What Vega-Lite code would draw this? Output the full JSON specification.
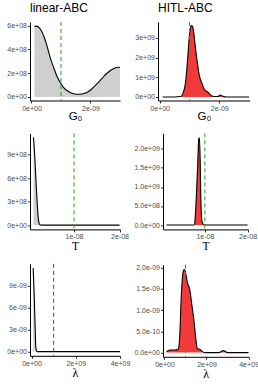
{
  "$schema": "https://vega.github.io/schema/vega-lite/v6.json",
  "padding": {"left": 0, "top": 2, "right": 0, "bottom": 0},
  "background": "white",
  "columns": 2,
  "align": "none",
  "bounds": "full",
  "spacing": {"row": 10.4, "column": -2},
  "config": {
    "view": {"stroke": null},
    "font": "Liberation Sans",
    "title": {"fontSize": 12, "fontWeight": "normal", "anchor": "start", "frame": "group", "baseline": "alphabetic", "offset": 6.5, "color": "black", "font": "Liberation Sans"},
    "axis": {"grid": false, "domainColor": "black", "domainWidth": 1, "tickColor": "#333333", "tickWidth": 1, "tickSize": 2.5, "labelFont": "Liberation Sans", "labelFontSize": 7, "labelColor": "#4d4d4d", "labelPadding": 1, "labelOverlap": false, "labelFlush": false, "titleFont": "Liberation Sans", "titleFontWeight": "normal", "titleColor": "black", "titleFontSize": 11.5}
  },
  "datasets": {
    "p1": [
      {"x": 1.0e-10, "y": 5.95e8}, {"x": 2.0e-10, "y": 5.93e8}, {"x": 3.1e-10, "y": 5.67e8}, {"x": 4.2e-10, "y": 5.10e8},
      {"x": 5.3e-10, "y": 4.25e8}, {"x": 6.4e-10, "y": 3.26e8}, {"x": 7.6e-10, "y": 2.41e8}, {"x": 8.7e-10, "y": 1.70e8},
      {"x": 9.8e-10, "y": 1.19e8}, {"x": 1.09e-9, "y": 7.9e7}, {"x": 1.20e-9, "y": 5.4e7}, {"x": 1.37e-9, "y": 3.1e7},
      {"x": 1.53e-9, "y": 2.3e7}, {"x": 1.70e-9, "y": 2.5e7}, {"x": 1.87e-9, "y": 3.7e7}, {"x": 2.03e-9, "y": 6.5e7},
      {"x": 2.20e-9, "y": 1.05e8}, {"x": 2.37e-9, "y": 1.50e8}, {"x": 2.53e-9, "y": 1.93e8}, {"x": 2.70e-9, "y": 2.27e8},
      {"x": 2.81e-9, "y": 2.41e8}, {"x": 2.94e-9, "y": 2.49e8}, {"x": 3.00e-9, "y": 2.48e8}
    ],
    "p2": [
      {"x": 1e-10, "y": 0}, {"x": 5e-10, "y": 0}, {"x": 7e-10, "y": 2e7}, {"x": 7.8e-10, "y": 1.7e8},
      {"x": 8.7e-10, "y": 7.6e8}, {"x": 9.4e-10, "y": 1.95e9}, {"x": 1.0e-9, "y": 3.14e9}, {"x": 1.04e-9, "y": 3.56e9},
      {"x": 1.07e-9, "y": 3.62e9}, {"x": 1.10e-9, "y": 3.58e9}, {"x": 1.14e-9, "y": 3.30e9}, {"x": 1.19e-9, "y": 2.63e9},
      {"x": 1.26e-9, "y": 1.78e9}, {"x": 1.33e-9, "y": 1.10e9}, {"x": 1.42e-9, "y": 6.8e8}, {"x": 1.50e-9, "y": 3.9e8},
      {"x": 1.61e-9, "y": 2.5e8}, {"x": 1.72e-9, "y": 8e7}, {"x": 1.83e-9, "y": 2e7}, {"x": 1.95e-9, "y": 2e7},
      {"x": 2.04e-9, "y": 1.0e8}, {"x": 2.12e-9, "y": 3e7}, {"x": 2.25e-9, "y": 0}, {"x": 3.0e-9, "y": 0}
    ],
    "p3": [
      {"x": 1.1e-9, "y": 1.12e9}, {"x": 1.4e-9, "y": 8.5e8}, {"x": 1.7e-9, "y": 5.0e8}, {"x": 2.0e-9, "y": 2.0e8},
      {"x": 2.25e-9, "y": 4e7}, {"x": 2.5e-9, "y": 5e6}, {"x": 2.8e-9, "y": 0}, {"x": 2.0e-8, "y": 0}
    ],
    "p4": [
      {"x": 1e-9, "y": 0}, {"x": 7.5e-9, "y": 0}, {"x": 7.7e-9, "y": 1.3e8}, {"x": 8.0e-9, "y": 7.4e8},
      {"x": 8.33e-9, "y": 1.61e9}, {"x": 8.57e-9, "y": 2.26e9}, {"x": 8.73e-9, "y": 2.29e9}, {"x": 8.89e-9, "y": 1.78e9},
      {"x": 9.05e-9, "y": 7.4e8}, {"x": 9.29e-9, "y": 1.3e8}, {"x": 9.52e-9, "y": 4e7}, {"x": 9.84e-9, "y": 0},
      {"x": 2.0e-8, "y": 0}
    ],
    "p5": [
      {"x": 7.5e7, "y": 1.14e-8}, {"x": 1.2e8, "y": 7.8e-9}, {"x": 1.66e8, "y": 3.26e-9}, {"x": 1.96e8, "y": 5.4e-10},
      {"x": 2.56e8, "y": 0}, {"x": 4.0e9, "y": 0}
    ],
    "p6": [
      {"x": 1.0e8, "y": 2e-11}, {"x": 2.5e8, "y": 6e-11}, {"x": 5.0e8, "y": 6e-11}, {"x": 6.5e8, "y": 8e-11},
      {"x": 7.2e8, "y": 3.3e-10}, {"x": 8.0e8, "y": 1.34e-9}, {"x": 8.8e8, "y": 1.88e-9}, {"x": 9.3e8, "y": 1.96e-9},
      {"x": 9.9e8, "y": 1.92e-9}, {"x": 1.09e9, "y": 1.65e-9}, {"x": 1.2e9, "y": 1.49e-9}, {"x": 1.31e9, "y": 1.10e-9},
      {"x": 1.41e9, "y": 7.2e-10}, {"x": 1.49e9, "y": 3.3e-10}, {"x": 1.57e9, "y": 9e-11}, {"x": 1.68e9, "y": 8e-11},
      {"x": 1.79e9, "y": 3e-11}, {"x": 1.92e9, "y": 0}, {"x": 2.6e9, "y": 0}, {"x": 2.8e9, "y": 5e-11},
      {"x": 3.0e9, "y": 0}, {"x": 4.0e9, "y": 0}
    ]
  },
  "concat": [
    {
      "width": 90, "height": 78.5, "title": "linear-ABC",
      "layer": [
        {"data": {"name": "p1"}, "mark": {"type": "area", "color": "#cfcfcf", "interpolate": "monotone"},
         "encoding": {
           "x": {"field": "x", "type": "quantitative", "scale": {"domain": [-5e-11, 3e-9], "nice": false, "zero": false},
                 "axis": {"title": "G₀", "values": [0, 2e-9], "labelExpr": "replace(format(datum.value, '.0e'), regexp('e([+-])([0-9])$'), 'e$010$02')", "minExtent": 11, "maxExtent": 11, "titlePadding": 7.9, "titleBaseline": "alphabetic"}},
           "y": {"field": "y", "type": "quantitative", "scale": {"domain": [-3e7, 6.3e8], "nice": false, "zero": false},
                 "axis": {"title": null, "values": [0, 2e8, 4e8, 6e8], "labelExpr": "replace(format(datum.value, '.0e'), regexp('e([+-])([0-9])$'), 'e$010$02')", "minExtent": 30, "maxExtent": 30}}
         }},
        {"data": {"name": "p1"}, "mark": {"type": "line", "color": "black", "strokeWidth": 1.1, "interpolate": "monotone"},
         "encoding": {
           "x": {"field": "x", "type": "quantitative", "scale": {"domain": [-5e-11, 3e-9], "nice": false, "zero": false},
                 "axis": {"title": "G₀", "values": [0, 2e-9], "labelExpr": "replace(format(datum.value, '.0e'), regexp('e([+-])([0-9])$'), 'e$010$02')", "minExtent": 11, "maxExtent": 11, "titlePadding": 7.9, "titleBaseline": "alphabetic"}},
           "y": {"field": "y", "type": "quantitative", "scale": {"domain": [-3e7, 6.3e8], "nice": false, "zero": false},
                 "axis": {"title": null, "values": [0, 2e8, 4e8, 6e8], "labelExpr": "replace(format(datum.value, '.0e'), regexp('e([+-])([0-9])$'), 'e$010$02')", "minExtent": 30, "maxExtent": 30}}
         }},
        {"data": {"values": [{"x": 1e-9}]}, "mark": {"type": "rule", "color": "#22a022", "strokeDash": [4, 3], "strokeWidth": 1},
         "encoding": {
           "x": {"field": "x", "type": "quantitative", "scale": {"domain": [-5e-11, 3e-9], "nice": false, "zero": false},
                 "axis": {"title": "G₀", "values": [0, 2e-9], "labelExpr": "replace(format(datum.value, '.0e'), regexp('e([+-])([0-9])$'), 'e$010$02')", "minExtent": 11, "maxExtent": 11, "titlePadding": 7.9, "titleBaseline": "alphabetic"}}
         }}
      ]
    },
    {
      "width": 91.7, "height": 78.5, "title": "HITL-ABC",
      "layer": [
        {"data": {"name": "p2"}, "mark": {"type": "area", "color": "#f33a3a", "interpolate": "monotone"},
         "encoding": {
           "x": {"field": "x", "type": "quantitative", "scale": {"domain": [-5.5e-11, 3.02e-9], "nice": false, "zero": false},
                 "axis": {"title": "G₀", "values": [0, 2e-9], "labelExpr": "replace(format(datum.value, '.0e'), regexp('e([+-])([0-9])$'), 'e$010$02')", "minExtent": 11, "maxExtent": 11, "titlePadding": 7.9, "titleBaseline": "alphabetic"}},
           "y": {"field": "y", "type": "quantitative", "scale": {"domain": [-1.8e8, 3.8e9], "nice": false, "zero": false},
                 "axis": {"title": null, "values": [0, 1e9, 2e9, 3e9], "labelExpr": "replace(format(datum.value, '.0e'), regexp('e([+-])([0-9])$'), 'e$010$02')", "minExtent": 29.3, "maxExtent": 29.3}}
         }},
        {"data": {"name": "p2"}, "mark": {"type": "line", "color": "black", "strokeWidth": 1.1, "interpolate": "monotone"},
         "encoding": {
           "x": {"field": "x", "type": "quantitative", "scale": {"domain": [-5.5e-11, 3.02e-9], "nice": false, "zero": false},
                 "axis": {"title": "G₀", "values": [0, 2e-9], "labelExpr": "replace(format(datum.value, '.0e'), regexp('e([+-])([0-9])$'), 'e$010$02')", "minExtent": 11, "maxExtent": 11, "titlePadding": 7.9, "titleBaseline": "alphabetic"}},
           "y": {"field": "y", "type": "quantitative", "scale": {"domain": [-1.8e8, 3.8e9], "nice": false, "zero": false},
                 "axis": {"title": null, "values": [0, 1e9, 2e9, 3e9], "labelExpr": "replace(format(datum.value, '.0e'), regexp('e([+-])([0-9])$'), 'e$010$02')", "minExtent": 29.3, "maxExtent": 29.3}}
         }},
        {"data": {"values": [{"x": 1e-9}]}, "mark": {"type": "rule", "color": "#22a022", "strokeDash": [4, 3], "strokeWidth": 1},
         "encoding": {
           "x": {"field": "x", "type": "quantitative", "scale": {"domain": [-5.5e-11, 3.02e-9], "nice": false, "zero": false},
                 "axis": {"title": "G₀", "values": [0, 2e-9], "labelExpr": "replace(format(datum.value, '.0e'), regexp('e([+-])([0-9])$'), 'e$010$02')", "minExtent": 11, "maxExtent": 11, "titlePadding": 7.9, "titleBaseline": "alphabetic"}}
         }}
      ]
    },
    {
      "width": 90, "height": 96,
      "layer": [
        {"data": {"name": "p3"}, "mark": {"type": "area", "color": "#cfcfcf", "interpolate": "monotone"},
         "encoding": {
           "x": {"field": "x", "type": "quantitative", "scale": {"domain": [3.3e-10, 2.01e-8], "nice": false, "zero": false},
                 "axis": {"title": "T", "titleFont": "Liberation Serif", "titleFontSize": 11.5, "values": [1e-8, 2e-8], "labelExpr": "replace(format(datum.value, '.0e'), regexp('e([+-])([0-9])$'), 'e$010$02')", "minExtent": 11, "maxExtent": 11, "titlePadding": 9, "titleBaseline": "alphabetic"}},
           "y": {"field": "y", "type": "quantitative", "scale": {"domain": [-5.5e7, 1.17e9], "nice": false, "zero": false},
                 "axis": {"title": null, "values": [0, 3e8, 6e8, 9e8], "labelExpr": "replace(format(datum.value, '.0e'), regexp('e([+-])([0-9])$'), 'e$010$02')", "minExtent": 30, "maxExtent": 30}}
         }},
        {"data": {"name": "p3"}, "mark": {"type": "line", "color": "black", "strokeWidth": 1.1, "interpolate": "monotone"},
         "encoding": {
           "x": {"field": "x", "type": "quantitative", "scale": {"domain": [3.3e-10, 2.01e-8], "nice": false, "zero": false},
                 "axis": {"title": "T", "titleFont": "Liberation Serif", "titleFontSize": 11.5, "values": [1e-8, 2e-8], "labelExpr": "replace(format(datum.value, '.0e'), regexp('e([+-])([0-9])$'), 'e$010$02')", "minExtent": 11, "maxExtent": 11, "titlePadding": 9, "titleBaseline": "alphabetic"}},
           "y": {"field": "y", "type": "quantitative", "scale": {"domain": [-5.5e7, 1.17e9], "nice": false, "zero": false},
                 "axis": {"title": null, "values": [0, 3e8, 6e8, 9e8], "labelExpr": "replace(format(datum.value, '.0e'), regexp('e([+-])([0-9])$'), 'e$010$02')", "minExtent": 30, "maxExtent": 30}}
         }},
        {"data": {"values": [{"x": 1e-8}]}, "mark": {"type": "rule", "color": "#22a022", "strokeDash": [4, 3], "strokeWidth": 1},
         "encoding": {
           "x": {"field": "x", "type": "quantitative", "scale": {"domain": [3.3e-10, 2.01e-8], "nice": false, "zero": false},
                 "axis": {"title": "T", "titleFont": "Liberation Serif", "titleFontSize": 11.5, "values": [1e-8, 2e-8], "labelExpr": "replace(format(datum.value, '.0e'), regexp('e([+-])([0-9])$'), 'e$010$02')", "minExtent": 11, "maxExtent": 11, "titlePadding": 9, "titleBaseline": "alphabetic"}}
         }}
      ]
    },
    {
      "width": 85, "height": 96,
      "layer": [
        {"data": {"name": "p4"}, "mark": {"type": "area", "color": "#f33a3a", "interpolate": "monotone"},
         "encoding": {
           "x": {"field": "x", "type": "quantitative", "scale": {"domain": [2e-10, 2.01e-8], "nice": false, "zero": false},
                 "axis": {"title": "T", "titleFont": "Liberation Serif", "titleFontSize": 11.5, "values": [1e-8, 2e-8], "labelExpr": "replace(format(datum.value, '.0e'), regexp('e([+-])([0-9])$'), 'e$010$02')", "minExtent": 11, "maxExtent": 11, "titlePadding": 9, "titleBaseline": "alphabetic"}},
           "y": {"field": "y", "type": "quantitative", "scale": {"domain": [-1.15e8, 2.405e9], "nice": false, "zero": false},
                 "axis": {"title": null, "values": [0, 5e8, 1e9, 1.5e9, 2e9], "labelExpr": "replace(format(datum.value, '.1e'), regexp('e([+-])([0-9])$'), 'e$010$02')", "minExtent": 34.5, "maxExtent": 34.5}}
         }},
        {"data": {"name": "p4"}, "mark": {"type": "line", "color": "black", "strokeWidth": 1.1, "interpolate": "monotone"},
         "encoding": {
           "x": {"field": "x", "type": "quantitative", "scale": {"domain": [2e-10, 2.01e-8], "nice": false, "zero": false},
                 "axis": {"title": "T", "titleFont": "Liberation Serif", "titleFontSize": 11.5, "values": [1e-8, 2e-8], "labelExpr": "replace(format(datum.value, '.0e'), regexp('e([+-])([0-9])$'), 'e$010$02')", "minExtent": 11, "maxExtent": 11, "titlePadding": 9, "titleBaseline": "alphabetic"}},
           "y": {"field": "y", "type": "quantitative", "scale": {"domain": [-1.15e8, 2.405e9], "nice": false, "zero": false},
                 "axis": {"title": null, "values": [0, 5e8, 1e9, 1.5e9, 2e9], "labelExpr": "replace(format(datum.value, '.1e'), regexp('e([+-])([0-9])$'), 'e$010$02')", "minExtent": 34.5, "maxExtent": 34.5}}
         }},
        {"data": {"values": [{"x": 1e-8}]}, "mark": {"type": "rule", "color": "#22a022", "strokeDash": [4, 3], "strokeWidth": 1},
         "encoding": {
           "x": {"field": "x", "type": "quantitative", "scale": {"domain": [2e-10, 2.01e-8], "nice": false, "zero": false},
                 "axis": {"title": "T", "titleFont": "Liberation Serif", "titleFontSize": 11.5, "values": [1e-8, 2e-8], "labelExpr": "replace(format(datum.value, '.0e'), regexp('e([+-])([0-9])$'), 'e$010$02')", "minExtent": 11, "maxExtent": 11, "titlePadding": 9, "titleBaseline": "alphabetic"}}
         }}
      ]
    },
    {
      "width": 90, "height": 92,
      "layer": [
        {"data": {"name": "p5"}, "mark": {"type": "area", "color": "#cfcfcf", "interpolate": "monotone"},
         "encoding": {
           "x": {"field": "x", "type": "quantitative", "scale": {"domain": [-6.8e7, 4.0e9], "nice": false, "zero": false},
                 "axis": {"title": "λ", "titleFont": "Liberation Serif", "titleFontSize": 12, "values": [0, 2e9, 4e9], "labelExpr": "replace(format(datum.value, '.0e'), regexp('e([+-])([0-9])$'), 'e$010$02')", "minExtent": 11, "maxExtent": 11, "titlePadding": 9.5, "titleBaseline": "alphabetic"}},
           "y": {"field": "y", "type": "quantitative", "scale": {"domain": [-5.7e-10, 1.197e-8], "nice": false, "zero": false},
                 "axis": {"title": null, "values": [0, 3e-9, 6e-9, 9e-9], "labelExpr": "replace(format(datum.value, '.0e'), regexp('e([+-])([0-9])$'), 'e$010$02')", "minExtent": 30, "maxExtent": 30}}
         }},
        {"data": {"name": "p5"}, "mark": {"type": "line", "color": "black", "strokeWidth": 1.1, "interpolate": "monotone"},
         "encoding": {
           "x": {"field": "x", "type": "quantitative", "scale": {"domain": [-6.8e7, 4.0e9], "nice": false, "zero": false},
                 "axis": {"title": "λ", "titleFont": "Liberation Serif", "titleFontSize": 12, "values": [0, 2e9, 4e9], "labelExpr": "replace(format(datum.value, '.0e'), regexp('e([+-])([0-9])$'), 'e$010$02')", "minExtent": 11, "maxExtent": 11, "titlePadding": 9.5, "titleBaseline": "alphabetic"}},
           "y": {"field": "y", "type": "quantitative", "scale": {"domain": [-5.7e-10, 1.197e-8], "nice": false, "zero": false},
                 "axis": {"title": null, "values": [0, 3e-9, 6e-9, 9e-9], "labelExpr": "replace(format(datum.value, '.0e'), regexp('e([+-])([0-9])$'), 'e$010$02')", "minExtent": 30, "maxExtent": 30}}
         }},
        {"data": {"values": [{"x": 1e9}]}, "mark": {"type": "rule", "color": "#1f6f1f", "strokeDash": [4, 3], "strokeWidth": 1},
         "encoding": {
           "x": {"field": "x", "type": "quantitative", "scale": {"domain": [-6.8e7, 4.0e9], "nice": false, "zero": false},
                 "axis": {"title": "λ", "titleFont": "Liberation Serif", "titleFontSize": 12, "values": [0, 2e9, 4e9], "labelExpr": "replace(format(datum.value, '.0e'), regexp('e([+-])([0-9])$'), 'e$010$02')", "minExtent": 11, "maxExtent": 11, "titlePadding": 9.5, "titleBaseline": "alphabetic"}}
         }}
      ]
    },
    {
      "width": 85.5, "height": 92,
      "layer": [
        {"data": {"name": "p6"}, "mark": {"type": "area", "color": "#f33a3a", "interpolate": "monotone"},
         "encoding": {
           "x": {"field": "x", "type": "quantitative", "scale": {"domain": [-7.1e7, 4.0e9], "nice": false, "zero": false},
                 "axis": {"title": "λ", "titleFont": "Liberation Serif", "titleFontSize": 12, "values": [0, 2e9, 4e9], "labelExpr": "replace(format(datum.value, '.0e'), regexp('e([+-])([0-9])$'), 'e$010$02')", "minExtent": 11, "maxExtent": 11, "titlePadding": 9.5, "titleBaseline": "alphabetic"}},
           "y": {"field": "y", "type": "quantitative", "scale": {"domain": [-9.9e-11, 2.07e-9], "nice": false, "zero": false},
                 "axis": {"title": null, "values": [0, 5e-10, 1e-9, 1.5e-9, 2e-9], "labelExpr": "replace(format(datum.value, '.1e'), regexp('e([+-])([0-9])$'), 'e$010$02')", "minExtent": 34.5, "maxExtent": 34.5}}
         }},
        {"data": {"name": "p6"}, "mark": {"type": "line", "color": "black", "strokeWidth": 1.1, "interpolate": "monotone"},
         "encoding": {
           "x": {"field": "x", "type": "quantitative", "scale": {"domain": [-7.1e7, 4.0e9], "nice": false, "zero": false},
                 "axis": {"title": "λ", "titleFont": "Liberation Serif", "titleFontSize": 12, "values": [0, 2e9, 4e9], "labelExpr": "replace(format(datum.value, '.0e'), regexp('e([+-])([0-9])$'), 'e$010$02')", "minExtent": 11, "maxExtent": 11, "titlePadding": 9.5, "titleBaseline": "alphabetic"}},
           "y": {"field": "y", "type": "quantitative", "scale": {"domain": [-9.9e-11, 2.07e-9], "nice": false, "zero": false},
                 "axis": {"title": null, "values": [0, 5e-10, 1e-9, 1.5e-9, 2e-9], "labelExpr": "replace(format(datum.value, '.1e'), regexp('e([+-])([0-9])$'), 'e$010$02')", "minExtent": 34.5, "maxExtent": 34.5}}
         }},
        {"data": {"values": [{"x": 1e9}]}, "mark": {"type": "rule", "color": "#22a022", "strokeDash": [4, 3], "strokeWidth": 1},
         "encoding": {
           "x": {"field": "x", "type": "quantitative", "scale": {"domain": [-7.1e7, 4.0e9], "nice": false, "zero": false},
                 "axis": {"title": "λ", "titleFont": "Liberation Serif", "titleFontSize": 12, "values": [0, 2e9, 4e9], "labelExpr": "replace(format(datum.value, '.0e'), regexp('e([+-])([0-9])$'), 'e$010$02')", "minExtent": 11, "maxExtent": 11, "titlePadding": 9.5, "titleBaseline": "alphabetic"}}
         }}
      ]
    }
  ]
}
